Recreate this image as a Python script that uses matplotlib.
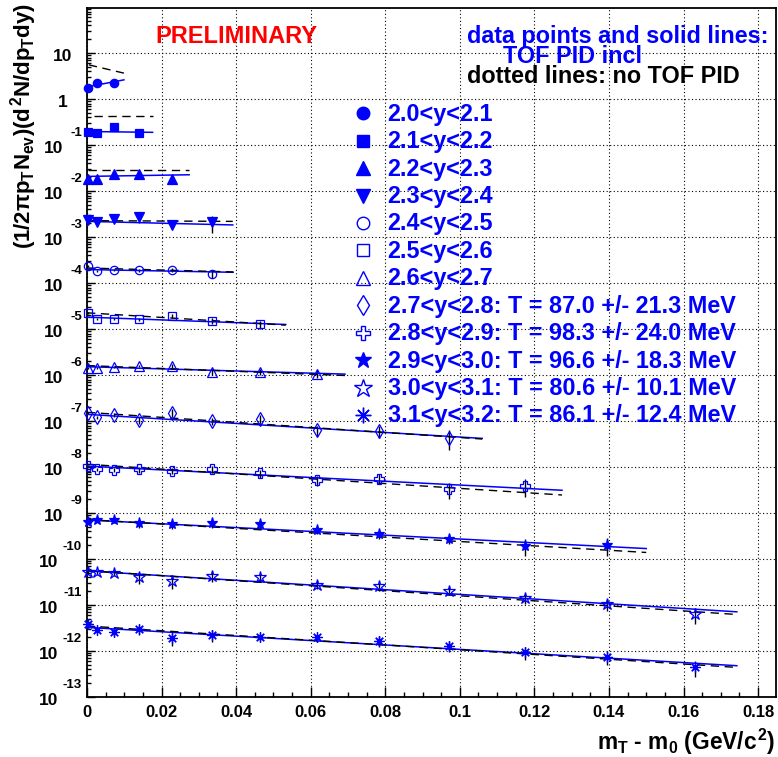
#!/usr/bin/env python3
"""mT - m0 spectra per rapidity bin, TOF PID vs no TOF PID (ROOT-style preliminary plot)."""

import numpy as np
import matplotlib
matplotlib.use("Agg")
import matplotlib.pyplot as plt
from matplotlib.ticker import FixedLocator, LogLocator, MultipleLocator, NullFormatter

plt.rcParams["font.family"] = ["Liberation Sans", "DejaVu Sans"]
plt.rcParams["font.weight"] = "bold"
plt.rcParams["mathtext.fontset"] = "custom"
plt.rcParams["mathtext.rm"] = "Liberation Sans:bold"
plt.rcParams["mathtext.it"] = "Liberation Sans:bold"
plt.rcParams["mathtext.bf"] = "Liberation Sans:bold"

# --- data ----------------------------------------------------------------
mt_m0 = [0.0004, 0.0028, 0.0072, 0.0139, 0.0227, 0.0336, 0.0465,
         0.0616, 0.0784, 0.0971, 0.1174, 0.1396, 0.1630]

bin_labels = ["2.0<y<2.1", "2.1<y<2.2", "2.2<y<2.3", "2.3<y<2.4",
              "2.4<y<2.5", "2.5<y<2.6", "2.6<y<2.7",
              "2.7<y<2.8: T = 87.0 +/- 21.3 MeV",
              "2.8<y<2.9: T = 98.3 +/- 24.0 MeV",
              "2.9<y<3.0: T = 96.6 +/- 18.3 MeV",
              "3.0<y<3.1: T = 80.6 +/- 10.1 MeV",
              "3.1<y<3.2: T = 86.1 +/- 12.4 MeV"]

y_20_21 = [1.79, 2.23, 2.30]
y_21_22 = [0.198, 0.183, 0.247, 0.183]
y_22_23 = [0.0186, 0.0186, 0.0239, 0.0239, 0.0186]
y_23_24 = [2.40e-3, 2.10e-3, 2.48e-3, 2.69e-3, 1.87e-3, 2.10e-3]
y_24_25 = [2.32e-4, 1.81e-4, 1.97e-4, 1.90e-4, 1.90e-4, 1.61e-4]
y_25_26 = [2.26e-5, 1.62e-5, 1.62e-5, 1.62e-5, 1.97e-5, 1.49e-5, 1.26e-5]
y_26_27 = [1.44e-6, 1.44e-6, 1.52e-6, 1.56e-6, 1.56e-6, 1.18e-6, 1.16e-6, 1.07e-6]
y_27_28 = [1.47e-7, 1.22e-7, 1.35e-7, 1.05e-7, 1.52e-7, 1.00e-7, 1.13e-7,
           6.37e-8, 6.06e-8, 4.36e-8]
y_28_29 = [1.05e-8, 8.93e-9, 8.50e-9, 8.93e-9, 8.20e-9, 8.93e-9, 7.31e-9,
           5.23e-9, 5.61e-9, 3.29e-9, 3.88e-9]
y_29_30 = [6.41e-10, 7.08e-10, 6.98e-10, 6.01e-10, 5.72e-10, 6.22e-10, 5.72e-10,
           4.30e-10, 3.47e-10, 2.79e-10, 1.93e-10, 2.00e-10]
y_30_31 = [5.26e-11, 5.10e-11, 4.93e-11, 3.97e-11, 3.35e-11, 4.31e-11, 3.97e-11,
           2.75e-11, 2.54e-11, 2.04e-11, 1.41e-11, 1.05e-11, 6.35e-12]
y_31_32 = [3.85e-12, 2.89e-12, 2.62e-12, 2.99e-12, 1.88e-12, 2.21e-12, 2.03e-12,
           1.97e-12, 1.66e-12, 1.30e-12, 9.33e-13, 7.49e-13, 4.41e-13]

# relative errors
e_20_21 = [0.03, 0.03, 0.03]
e_21_22 = [0.05, 0.05, 0.05, 0.05]
e_22_23 = [0.05, 0.05, 0.05, 0.05, 0.08]
e_23_24 = [0.05, 0.05, 0.08, 0.25, 0.15, 0.40]
e_24_25 = [0.05, 0.05, 0.05, 0.08, 0.10, 0.20]
e_25_26 = [0.05, 0.05, 0.05, 0.08, 0.10, 0.15, 0.20]
e_26_27 = [0.05, 0.05, 0.05, 0.05, 0.10, 0.15, 0.15, 0.20]
e_27_28 = [0.05, 0.08, 0.10, 0.18, 0.18, 0.18, 0.20, 0.25, 0.30, 0.45]
e_28_29 = [0.05, 0.08, 0.10, 0.15, 0.15, 0.18, 0.20, 0.25, 0.25, 0.40, 0.42]
e_29_30 = [0.05, 0.08, 0.12, 0.20, 0.20, 0.25, 0.20, 0.20, 0.20, 0.25, 0.39, 0.42]
e_30_31 = [0.10, 0.12, 0.15, 0.28, 0.33, 0.25, 0.20, 0.20, 0.20, 0.20, 0.25, 0.30, 0.39]
e_31_32 = [0.10, 0.15, 0.20, 0.25, 0.30, 0.28, 0.20, 0.20, 0.25, 0.25, 0.30, 0.33, 0.39]

yields = [y_20_21, y_21_22, y_22_23, y_23_24, y_24_25, y_25_26,
          y_26_27, y_27_28, y_28_29, y_29_30, y_30_31, y_31_32]
rel_errs = [e_20_21, e_21_22, e_22_23, e_23_24, e_24_25, e_25_26,
            e_26_27, e_27_28, e_28_29, e_29_30, e_30_31, e_31_32]

# fit lines (exponentials -> straight on log scale): end points
fit_xend = [0.0099, 0.0176, 0.0274, 0.0391, 0.0392, 0.0533,
            0.0692, 0.106, 0.1274, 0.150, 0.1743, 0.1743]
tof_y0 = [1.85, 0.198, 0.0209, 2.20e-3, 1.97e-4, 1.82e-5,
          1.52e-6, 1.40e-7, 1.05e-8, 7.08e-10, 5.52e-11, 3.27e-12]
tof_y1 = [2.63, 0.190, 0.0227, 1.84e-3, 1.72e-4, 1.26e-5,
          1.05e-6, 4.20e-8, 3.13e-9, 1.69e-10, 7.11e-12, 4.79e-13]
notof_x0 = [0.0005, 0.0020, 0.0004, 0.0, 0.0, 0.0,
            0.0, 0.0, 0.0, 0.0, 0.0, 0.0]
notof_y0 = [5.57, 0.42, 0.0292, 2.28e-3, 2.13e-4, 2.26e-5,
            1.61e-6, 1.55e-7, 1.15e-8, 7.20e-10, 5.60e-11, 3.50e-12]
notof_y1 = [3.68, 0.42, 0.0292, 2.20e-3, 1.75e-4, 1.22e-5,
            9.80e-7, 4.07e-8, 2.47e-9, 1.39e-10, 6.22e-12, 4.40e-13]

xticks = [0, 0.02, 0.04, 0.06, 0.08, 0.1, 0.12, 0.14, 0.16, 0.18]
xtick_labels = ["0", "0.02", "0.04", "0.06", "0.08", "0.1", "0.12", "0.14", "0.16", "0.18"]
ytick_exps = [1, 0, -1, -2, -3, -4, -5, -6, -7, -8, -9, -10, -11, -12, -13]

# marker, filled, data size (pt)
markers = [("o", True, 6.0), ("s", True, 6.0), ("^", True, 6.5), ("v", True, 6.5),
           ("o", False, 6.0), ("s", False, 6.0), ("^", False, 6.5), ("d", False, 7.0),
           ("P", False, 7.0), ("*", True, 8.0), ("*", False, 9.0), ((8, 2, 0), False, 7.5)]

BLUE = "#0000ff"
W, H = 778, 757


def fx(x):
    return x / W


def fy(y):
    return 1 - y / H


fig = plt.figure(figsize=(W / 100, H / 100), dpi=100)
ax = fig.add_axes([fx(87), fy(697), (776 - 87) / W, (697 - 8) / H])
ax.set_yscale("log")
ax.set_xlim(0, 0.1848)
ax.set_ylim(1e-13, 96)

for spine in ax.spines.values():
    spine.set_linewidth(1.3)

ax.xaxis.set_major_locator(FixedLocator(xticks))
ax.xaxis.set_minor_locator(MultipleLocator(0.005))
ax.set_xticklabels(xtick_labels, fontsize=12, fontweight="bold")
ax.yaxis.set_major_locator(FixedLocator([10.0 ** e for e in ytick_exps]))
ax.yaxis.set_minor_locator(LogLocator(base=10, subs=np.arange(2, 10), numticks=40))
ax.yaxis.set_major_formatter(NullFormatter())
ax.yaxis.set_minor_formatter(NullFormatter())
ax.tick_params(axis="both", which="both", direction="in", top=False, right=False,
               width=1.0, color="black")
ax.tick_params(axis="x", which="major", length=7.5, pad=5.8)
ax.tick_params(axis="x", which="minor", length=3.8)
ax.tick_params(axis="y", which="major", length=6.0)
ax.tick_params(axis="y", which="minor", length=3.2)
ax.grid(True, which="major", color="black", ls=(0, (1, 2.2)), lw=0.8)
ax.set_axisbelow(True)

# y tick labels, ROOT style: "10" with a raised exponent
for e in ytick_exps:
    yv = 10.0 ** e
    if e == 1:
        base, exp, right = "10", "", 15
    elif e == 0:
        base, exp, right = "1", "", 19
    else:
        exp = str(e)
        base, right = "10", (24 if len(exp) == 2 else 29)
    ax.annotate(base, xy=(0, yv), xycoords=("axes fraction", "data"),
                xytext=(-right * 0.72, -7.5 * 0.72), textcoords="offset points",
                ha="right", va="baseline", fontsize=12.5, fontweight="bold",
                annotation_clip=False)
    if exp:
        ax.annotate(exp, xy=(0, yv), xycoords=("axes fraction", "data"),
                    xytext=(-5 * 0.72, 9 * 0.72), textcoords="offset points",
                    ha="right", va="baseline", fontsize=9.5, fontweight="bold",
                    annotation_clip=False)

# data, fits
for i, vals in enumerate(yields):
    x = np.array(mt_m0[:len(vals)])
    v = np.array(vals)
    err = v * np.array(rel_errs[i])
    mk, filled, ms = markers[i]
    ax.errorbar(x, v, yerr=err, fmt="none", ecolor="black", elinewidth=1.0,
                capsize=0, zorder=2)
    ax.plot([0, fit_xend[i]], [tof_y0[i], tof_y1[i]], color=BLUE, lw=1.1, zorder=3)
    ax.plot([notof_x0[i], fit_xend[i]], [notof_y0[i], notof_y1[i]], color="black",
            lw=1.0, ls=(0, (6, 4)), zorder=3)
    ax.plot(x, v, ls="none", marker=mk, ms=ms, mfc=BLUE if filled else "none",
            mec=BLUE, mew=0.9, zorder=4, clip_on=False)

# legend
for i, lab in enumerate(bin_labels):
    row = 113.3 + i * 27.43
    mk, filled, ms = markers[i]
    fig.lines.append(plt.Line2D([fx(362.7)], [fy(row)], transform=fig.transFigure,
                                ls="none", marker=mk, ms=ms * 1.5,
                                mfc=BLUE if filled else "none", mec=BLUE, mew=1.0))
    fig.text(fx(387.7), fy(row + 7.4), lab, color=BLUE, fontsize=16.8,
             fontweight="bold", ha="left", va="baseline")

fig.text(fx(155), fy(43.3), "PRELIMINARY", color="#ff0000", fontsize=17,
         fontweight="bold", ha="left", va="baseline")
fig.text(fx(466.7), fy(43.3), "data points and solid lines:", color=BLUE,
         fontsize=16.8, fontweight="bold", ha="left", va="baseline")
fig.text(fx(502.7), fy(63.3), "TOF PID incl", color=BLUE,
         fontsize=16.8, fontweight="bold", ha="left", va="baseline")
fig.text(fx(466.7), fy(83.3), "dotted lines: no TOF PID", color="black",
         fontsize=16.8, fontweight="bold", ha="left", va="baseline")

# axis titles
fig.text(fx(775), fy(750), r"$m_T$ - $m_0$ (GeV/$c^2$)", fontsize=16.4,
         fontweight="bold", ha="right", va="baseline")
fig.text(fx(24), fy(3), r"$(1/2\pi p_TN_{ev})(d^2N/dp_Tdy)$", fontsize=16,
         fontweight="bold", rotation=90, ha="center", va="top")

fig.savefig("out.png", dpi=100)
